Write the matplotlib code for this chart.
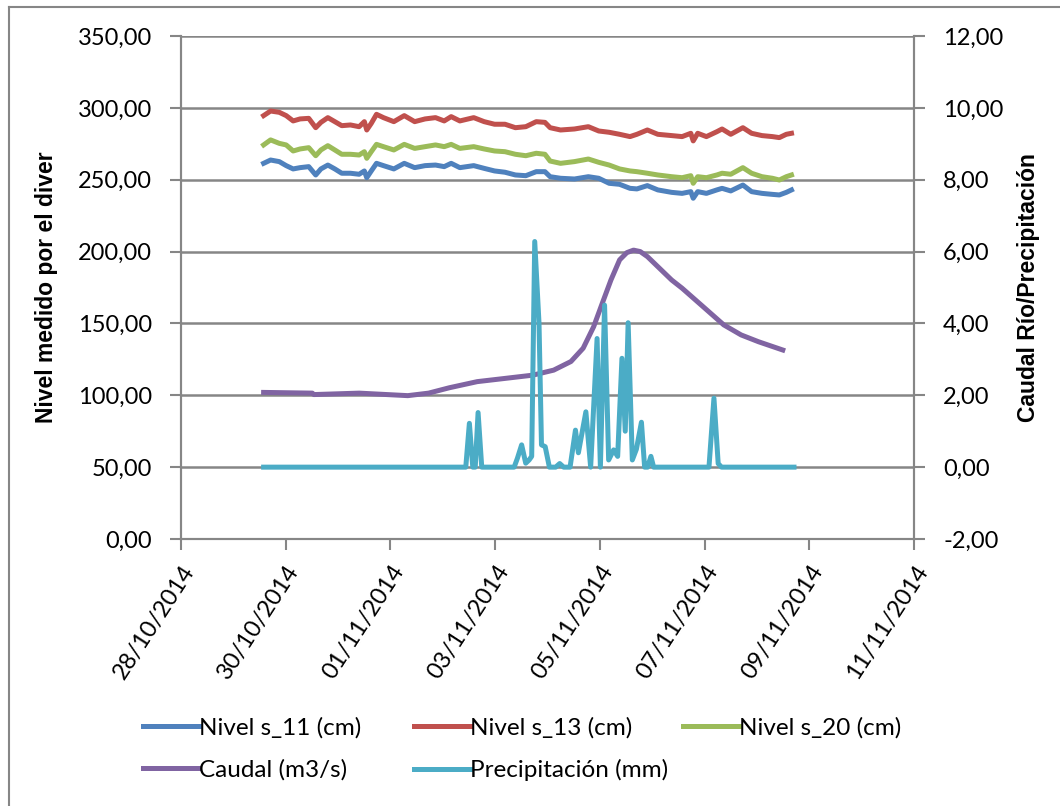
import datetime as dt
import numpy as np
import matplotlib
matplotlib.use("Agg")
import matplotlib.pyplot as plt
import matplotlib.dates as mdates
from matplotlib.lines import Line2D
from matplotlib.ticker import FuncFormatter

# time in days since 28/10/2014 00:00
t_nivel = [1.578, 1.711, 1.877, 2.009, 2.142, 2.275, 2.440, 2.573, 2.672, 2.805, 2.938,
           3.070, 3.236, 3.402, 3.502, 3.548, 3.634, 3.734, 3.867, 4.065, 4.264, 4.463,
           4.662, 4.861, 5.027, 5.160, 5.326, 5.591, 5.790, 5.989, 6.188, 6.387, 6.586,
           6.785, 6.951, 7.050, 7.249, 7.515, 7.780, 7.979, 8.178, 8.377, 8.576, 8.708,
           8.907, 9.107, 9.372, 9.571, 9.737, 9.783, 9.869, 10.035, 10.234, 10.334, 10.500,
           10.732, 10.898, 11.097, 11.296, 11.428, 11.561, 11.660]
nivel_s11 = [261.4, 263.7, 262.6, 259.8, 257.5, 258.4, 259.1, 253.3, 257.5, 260.2, 257.5,
             254.5, 254.5, 253.8, 256.1, 251.4, 256.1, 261.4, 259.8, 257.5, 261.4, 258.4,
             259.8, 260.2, 259.1, 261.4, 258.4, 259.8, 257.9, 256.1, 255.2, 253.3, 252.8,
             255.6, 255.6, 252.1, 251.0, 250.5, 252.1, 251.0, 247.5, 246.8, 244.0, 243.6,
             245.9, 242.9, 241.2, 240.5, 241.7, 237.1, 241.7, 240.5, 242.9, 244.0, 242.2,
             246.3, 241.7, 240.5, 239.8, 239.4, 241.2, 242.9]
nivel_s13 = [294.6, 297.8, 296.9, 294.6, 290.9, 292.3, 292.7, 286.2, 289.9, 293.2, 290.4,
             287.6, 288.1, 286.9, 290.4, 284.6, 289.2, 295.5, 293.2, 290.4, 294.6, 290.4,
             292.3, 293.2, 290.9, 293.9, 290.9, 293.2, 290.4, 288.6, 288.6, 286.2, 286.9,
             290.4, 289.9, 286.2, 284.6, 285.3, 286.9, 283.9, 283.0, 281.6, 280.0, 281.6,
             284.6, 281.6, 280.7, 280.0, 282.3, 277.0, 282.3, 280.0, 283.4, 285.3, 281.6,
             286.2, 282.3, 280.7, 280.0, 279.3, 281.6, 282.3]
nivel_s20 = [274.2, 277.7, 275.3, 274.2, 270.0, 271.4, 272.3, 266.7, 270.7, 273.7, 270.7,
             267.7, 267.7, 267.2, 269.5, 264.9, 269.5, 274.6, 273.0, 270.7, 274.6, 271.8,
             273.0, 274.2, 273.0, 274.6, 271.8, 273.0, 271.4, 270.0, 269.5, 267.7, 266.7,
             268.4, 267.7, 263.0, 261.4, 262.6, 264.4, 262.1, 260.2, 257.5, 256.1, 255.6,
             254.5, 253.3, 252.1, 251.4, 252.8, 247.5, 252.1, 251.4, 253.3, 254.5, 253.8,
             258.4, 254.5, 252.1, 251.0, 249.8, 252.1, 253.3]

t_caudal = [1.578, 2.508, 2.538, 3.403, 4.332, 4.729, 5.126, 5.658, 6.189, 6.718, 7.118,
            7.448, 7.681, 7.882, 8.046, 8.212, 8.378, 8.515, 8.643, 8.771, 8.908, 9.370,
            9.571, 9.969, 10.366, 10.698, 11.031, 11.494]
caudal = [2.08, 2.06, 2.02, 2.06, 1.99, 2.06, 2.21, 2.38, 2.47, 2.56, 2.70,
          2.94, 3.31, 3.91, 4.56, 5.21, 5.77, 5.97, 6.04, 6.00, 5.86, 5.21,
          4.98, 4.47, 3.96, 3.68, 3.49, 3.26]

t_precip = [1.578, 5.439, 5.508, 5.573, 5.620, 5.674, 5.744, 6.363, 6.426, 6.506, 6.584,
            6.649, 6.698, 6.756, 6.838, 6.885, 6.956, 7.036, 7.156, 7.233, 7.309, 7.431,
            7.534, 7.590, 7.733, 7.824, 7.947, 8.010, 8.090, 8.168, 8.263, 8.340, 8.422,
            8.485, 8.540, 8.620, 8.698, 8.794, 8.855, 8.912, 8.975, 9.027, 10.084, 10.179,
            10.260, 10.324, 11.708]
precip = [0, 0, 1.22, 0, 0, 1.52, 0, 0, 0.25, 0.62, 0.11,
          0.2, 0.3, 6.28, 4.0, 0.62, 0.57, 0, 0, 0.1, 0, 0,
          1.03, 0.4, 1.54, 0, 3.58, 0, 4.51, 0.2, 0.48, 0.3, 3.03,
          1.0, 4.02, 0.2, 0.5, 1.25, 0, 0, 0.3, 0, 0, 1.92,
          0.1, 0, 0]

base = dt.datetime(2014, 10, 28)
def to_dates(days):
    return [base + dt.timedelta(days=d) for d in days]

fmt = lambda v, p: f"{v:.2f}".replace(".", ",")
grey = "#868686"
font = ["Lato", "DejaVu Sans"]
lw = 3.6

fig = plt.figure(figsize=(10.6, 8.06), dpi=100)
ax = fig.add_axes([181/1060, 1-539/806, (914-181)/1060, (539-36)/806])
ax2 = ax.twinx()

l11, = ax.plot(to_dates(t_nivel), nivel_s11, color="#4F81BD", lw=lw, label="Nivel s_11 (cm)")
l13, = ax.plot(to_dates(t_nivel), nivel_s13, color="#C0504D", lw=lw, label="Nivel s_13 (cm)")
l20, = ax.plot(to_dates(t_nivel), nivel_s20, color="#9BBB59", lw=lw, label="Nivel s_20 (cm)")
lc, = ax2.plot(to_dates(t_caudal), caudal, color="#8064A2", lw=lw, label="Caudal (m3/s)")
lp, = ax2.plot(to_dates(t_precip), precip, color="#4BACC6", lw=lw, label="Precipitación (mm)")

ax.set_ylim(0, 350)
ax.set_yticks(np.arange(0, 351, 50))
ax2.set_ylim(-2, 12)
ax2.set_yticks(np.arange(-2, 13, 2))
ax.yaxis.set_major_formatter(FuncFormatter(fmt))
ax2.yaxis.set_major_formatter(FuncFormatter(fmt))

xt = to_dates(range(0, 15, 2))
ax.set_xlim(xt[0], xt[-1])
ax.set_xticks(xt)
ax.xaxis.set_major_formatter(mdates.DateFormatter("%d/%m/%Y"))
for lab in ax.get_xticklabels():
    lab.set_rotation(57)
    lab.set_ha("right")
    lab.set_rotation_mode("anchor")
    lab.set_fontsize(17)
    lab.set_family(font)
for a in (ax, ax2):
    for lab in a.get_yticklabels():
        lab.set_family(font)
        lab.set_fontsize(17)

ax.grid(axis="y", color=grey, lw=1.8)
ax.set_axisbelow(True)
for a in (ax, ax2):
    a.spines["top"].set_visible(False)
    for s in ("left", "right", "bottom"):
        a.spines[s].set_color(grey)
        a.spines[s].set_linewidth(1.5)
ax.tick_params(axis="x", length=8, width=1.5, color=grey, pad=8)
ax.tick_params(axis="y", length=8, width=1.5, color=grey, pad=13)
ax2.tick_params(axis="y", length=8, width=1.5, color=grey, pad=13)

ax.set_ylabel("Nivel medido por el diver", fontsize=16.5, fontweight="bold",
              family="Liberation Sans", labelpad=14)
ax2.set_ylabel("Caudal Río/Precipitación", fontsize=16.5, fontweight="bold",
               family="Liberation Sans", labelpad=10)

# legend: three columns with fixed positions like the original
cols = [([l11, lc], 143), ([l13, lp], 414), ([l20], 683)]
for hs, x0 in cols:
    leg = fig.legend(handles=hs, labels=[h.get_label() for h in hs],
                     loc="upper left", bbox_to_anchor=(x0/1060, 1-717/806),
                     frameon=False, borderpad=0, borderaxespad=0,
                     handlelength=2.3, handletextpad=0.0, labelspacing=0.85,
                     prop={"family": font, "size": 17.5})

# chart area border (top and left edges visible)
fig.add_artist(Line2D([9/1060, 9/1060], [0, 1-7/806], color=grey, lw=1.5))
fig.add_artist(Line2D([9/1060, 1], [1-7/806, 1-7/806], color=grey, lw=1.5))

fig.savefig("out.png", dpi=100)
